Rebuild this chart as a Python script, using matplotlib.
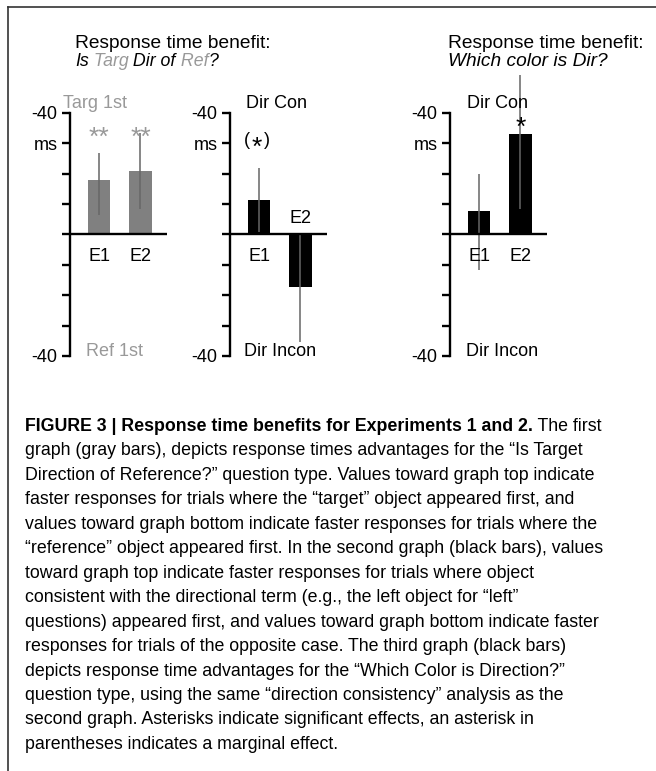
import matplotlib.pyplot as plt

plt.rcParams["font.family"] = ["Liberation Sans", "DejaVu Sans"]

W, H = 656, 771

# ----------------------------
# Data (ms, positive = top of graph)
# ----------------------------

groups = ["E1", "E2"]
y_ticks = [-40, -30, -20, -10, 0, 10, 20, 30, 40]
y_tick_labels = ["-40", "", "", "", "", "", "", "ms", "-40"]

targ_vals = [17.8, 20.8]
targ_err_lo = [6.3, 8.2]
targ_err_hi = [26.8, 33.2]

dircon_vals = [11.3, -17.4]
dircon_err_lo = [0.7, -35.3]
dircon_err_hi = [21.9, 0.5]

color_vals = [7.6, 32.9]
color_err_lo = [-11.6, 8.2]
color_err_hi = [19.9, 52.3]

caption_head = "FIGURE 3 | Response time benefits for Experiments 1 and 2."
caption_lines = [
    " The first",
    "graph (gray bars), depicts response times advantages for the \u201cIs Target",
    "Direction of Reference?\u201d question type. Values toward graph top indicate",
    "faster responses for trials where the \u201ctarget\u201d object appeared first, and",
    "values toward graph bottom indicate faster responses for trials where the",
    "\u201creference\u201d object appeared first. In the second graph (black bars), values",
    "toward graph top indicate faster responses for trials where object",
    "consistent with the directional term (e.g., the left object for \u201cleft\u201d",
    "questions) appeared first, and values toward graph bottom indicate faster",
    "responses for trials of the opposite case. The third graph (black bars)",
    "depicts response time advantages for the \u201cWhich Color is Direction?\u201d",
    "question type, using the same \u201cdirection consistency\u201d analysis as the",
    "second graph. Asterisks indicate significant effects, an asterisk in",
    "parentheses indicates a marginal effect.",
]

GRAY_BAR = "#808080"
GRAY_TXT = "#999999"
ERR_COL = "#666666"
FS = 13
STAR_FS = 19
TITLE_FS = 13.8

fig = plt.figure(figsize=(W / 100, H / 100), dpi=100)

# full-figure layer in pixel units for frame, titles and caption
over = fig.add_axes([0, 0, 1, 1])
over.set_xlim(0, W)
over.set_ylim(H, 0)
over.axis("off")

over.plot([8, 8], [7, H], color="#333333", lw=1.2)
over.plot([8, W], [7, 7], color="#333333", lw=1.2)

AX_TOP, AX_BOT, AX_W = 112.7, 356.0, 97.0
x = [0, 1]


def make_panel(left_px, vals, lo, hi, bar_col):
    ax = fig.add_axes([left_px / W, 1 - AX_BOT / H, AX_W / W, (AX_BOT - AX_TOP) / H])
    ax.bar(x, vals, width=0.54, color=bar_col, zorder=2)
    ax.vlines(x, lo, hi, color=ERR_COL, lw=1.1, zorder=3, clip_on=False)
    ax.axhline(0, color="black", lw=1.7, zorder=4)
    ax.set_xlim(-0.7, 1.64)
    ax.set_ylim(-40, 40)
    for s in ["top", "right", "bottom"]:
        ax.spines[s].set_visible(False)
    ax.spines["left"].set_linewidth(1.7)
    ax.set_yticks(y_ticks)
    ax.set_yticklabels(y_tick_labels)
    ax.tick_params(axis="y", direction="out", length=6, width=1.7, pad=3, labelsize=FS)
    ax.set_xticks([])
    ax.patch.set_visible(False)
    return ax


def run_text(x0, y0, parts, **kw):
    t = over.text(x0, y0, parts[0][0], color=parts[0][1], va="baseline", **kw)
    for s, c in parts[1:]:
        t = over.annotate(s, xy=(1, 0), xycoords=t, va="bottom", color=c, **kw)
    return t


# panel 1: Is Targ Dir of Ref?
ax1 = make_panel(70, targ_vals, targ_err_lo, targ_err_hi, GRAY_BAR)
ax1.text(-0.09, 43, "Targ 1st", color=GRAY_TXT, ha="center", va="center", fontsize=FS)
for xi in x:
    ax1.text(xi, 29.4, "**", color=GRAY_TXT, ha="center", va="baseline", fontsize=STAR_FS)
    ax1.text(xi, -7.2, groups[xi], ha="center", va="center", fontsize=FS)
ax1.text(0.38, -38.5, "Ref 1st", color=GRAY_TXT, ha="center", va="center", fontsize=FS)

# panel 2: direction consistency
ax2 = make_panel(230, dircon_vals, dircon_err_lo, dircon_err_hi, "black")
ax2.text(0.43, 43, "Dir Con", ha="center", va="center", fontsize=FS)
ax2.text(-0.30, 30.9, "(", ha="center", va="center", fontsize=FS)
ax2.text(-0.05, 26.3, "*", ha="center", va="baseline", fontsize=STAR_FS)
ax2.text(0.20, 30.9, ")", ha="center", va="center", fontsize=FS)
ax2.text(1, 5.3, "E2", ha="center", va="center", fontsize=FS)
ax2.text(0, -7.2, "E1", ha="center", va="center", fontsize=FS)
ax2.text(0.5, -38.5, "Dir Incon", ha="center", va="center", fontsize=FS)

# panel 3: which color is Dir?
ax3 = make_panel(450, color_vals, color_err_lo, color_err_hi, "black")
ax3.text(0.44, 43, "Dir Con", ha="center", va="center", fontsize=FS)
ax3.text(1, 32.8, "*", ha="center", va="baseline", fontsize=STAR_FS)
for xi in x:
    ax3.text(xi, -7.2, groups[xi], ha="center", va="center", fontsize=FS)
ax3.text(0.55, -38.5, "Dir Incon", ha="center", va="center", fontsize=FS)

# panel titles
over.text(75, 48, "Response time benefit:", fontsize=TITLE_FS, va="baseline")
run_text(75, 66, [("Is", "black"), (" Targ", GRAY_TXT), (" Dir of", "black"),
                  (" Ref", GRAY_TXT), ("?", "black")], fontsize=12.8, style="italic")
over.text(448, 48, "Response time benefit:", fontsize=TITLE_FS, va="baseline")
over.text(448, 66, "Which color is Dir?", fontsize=TITLE_FS, va="baseline", style="italic")

# caption
cap_kw = dict(fontsize=12.8)
head = over.text(25, 431, caption_head, fontweight="bold", va="baseline", **cap_kw)
over.annotate(caption_lines[0], xy=(1, 0), xycoords=head, va="bottom", **cap_kw)
for i, line in enumerate(caption_lines[1:], start=1):
    over.text(25, 431 + 24.45 * i, line, va="baseline", **cap_kw)

fig.savefig("out.png", dpi=100)
